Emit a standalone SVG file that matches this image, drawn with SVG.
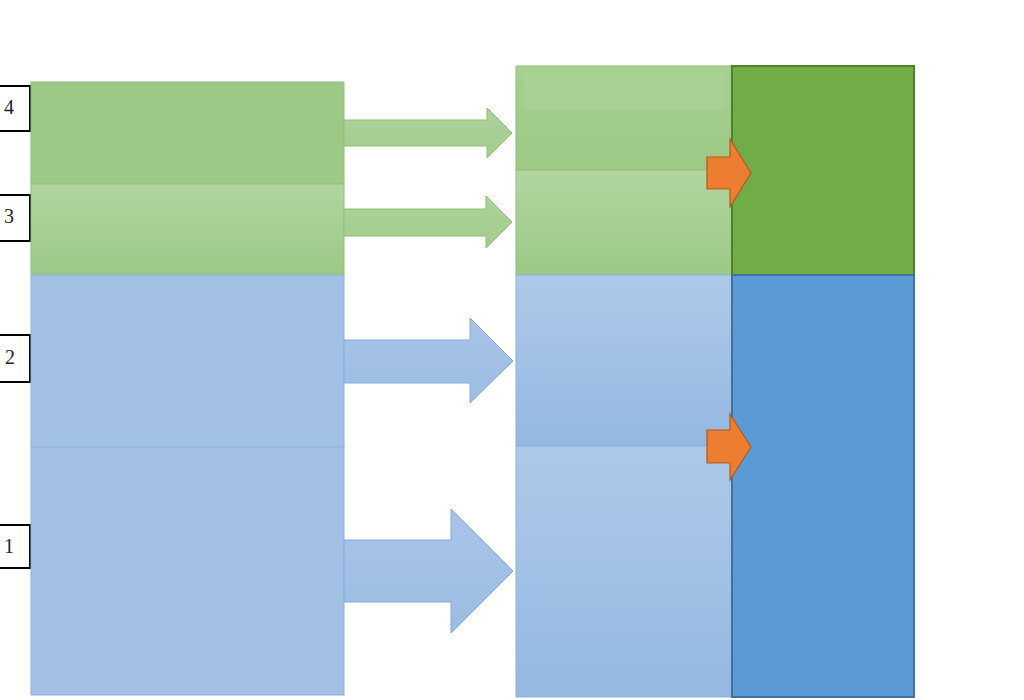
<svg xmlns="http://www.w3.org/2000/svg" width="1024" height="700" viewBox="0 0 1024 700">
<defs>
<linearGradient id="gGreenLight" x1="0" y1="0" x2="0" y2="1"><stop offset="0" stop-color="#b2d59f"/><stop offset="1" stop-color="#9cc986"/></linearGradient>
<linearGradient id="gGreenMid" x1="0" y1="0" x2="0" y2="1"><stop offset="0" stop-color="#a6cf90"/><stop offset="1" stop-color="#9dc985"/></linearGradient>
<linearGradient id="gBlueMid" x1="0" y1="0" x2="0" y2="1"><stop offset="0" stop-color="#aec9e8"/><stop offset="1" stop-color="#94b8e2"/></linearGradient>
<linearGradient id="gArrowG" x1="0" y1="0" x2="0" y2="1"><stop offset="0" stop-color="#aed39a"/><stop offset="1" stop-color="#a2cc8c"/></linearGradient>
<linearGradient id="gArrowB" x1="0" y1="0" x2="0" y2="1"><stop offset="0" stop-color="#a8c5e7"/><stop offset="1" stop-color="#9cbce3"/></linearGradient>
</defs>
<style>
.lbl{fill:#fff;stroke:#000;stroke-width:2}
.t{font-family:"Liberation Serif",serif;font-size:20px;fill:#222}
.gbox{stroke:#8fc07a;stroke-width:1}
.bbox{fill:#a2c0e4;stroke:#8eb1dc;stroke-width:1}
.ga{fill:url(#gArrowG);stroke:#8dbf74;stroke-width:1}
.ba{fill:url(#gArrowB);stroke:#86aad8;stroke-width:1}
.oa{fill:#ed7d31;stroke:#ae5a21;stroke-width:1.2}
</style>
<rect width="1024" height="700" fill="#fff"/>
<g id="label4"><rect class="lbl" x="-5" y="86" width="35" height="45"/><text class="t" x="4" y="114">4</text></g>
<g id="label3"><rect class="lbl" x="-5" y="195" width="35" height="46"/><text class="t" x="4" y="223">3</text></g>
<g id="label2"><rect class="lbl" x="-5" y="335" width="35" height="47"/><text class="t" x="5" y="364">2</text></g>
<g id="label1"><rect class="lbl" x="-5" y="525" width="35" height="43"/><text class="t" x="4" y="553">1</text></g>
<g id="left4"><rect class="gbox" x="31" y="82" width="313" height="102" fill="#9dc987"/></g>
<g id="left3"><rect class="gbox" x="31" y="184" width="313" height="91" fill="url(#gGreenLight)"/></g>
<g id="left2"><rect class="bbox" x="31" y="275" width="313" height="172"/></g>
<g id="left1"><rect class="bbox" x="31" y="447" width="313" height="248"/></g>
<g id="connectors">
<polygon class="ga" points="344,120 487,120 487,108 512,133 487,158 487,146 344,146"/>
<polygon class="ga" points="344,209 486,209 486,196 512,222 486,248 486,236 344,236"/>
<polygon class="ba" points="344,340 470,340 470,318 513,361 470,403 470,383 344,383"/>
<polygon class="ba" points="344,540 451,540 451,509 513,571 451,633 451,602 344,602"/>
</g>
<g id="mid4"><rect class="gbox" x="516" y="66" width="216" height="104" fill="url(#gGreenMid)"/><rect x="524" y="72" width="200" height="38" fill="#acd397" opacity="0.5"/></g>
<g id="mid3"><rect class="gbox" x="516" y="170" width="216" height="105" fill="url(#gGreenLight)"/></g>
<g id="mid2"><rect x="516" y="275" width="216" height="171" fill="url(#gBlueMid)" stroke="#8eb1dc"/></g>
<g id="mid1"><rect x="516" y="446" width="216" height="251" fill="url(#gBlueMid)" stroke="#8eb1dc"/></g>
<g id="rightGreen"><rect x="732" y="66" width="182" height="209" fill="#70ad47" stroke="#507e32" stroke-width="2"/></g>
<g id="rightBlue"><rect x="732" y="275" width="182" height="422" fill="#5b9bd5" stroke="#41719c" stroke-width="2"/></g>
<g id="orangeArrows">
<polygon class="oa" points="707,157 730,157 730,139 751,173 730,207 730,189 707,189"/>
<polygon class="oa" points="707,430 730,430 730,414 751,447 730,480 730,463 707,463"/>
</g>
</svg>
